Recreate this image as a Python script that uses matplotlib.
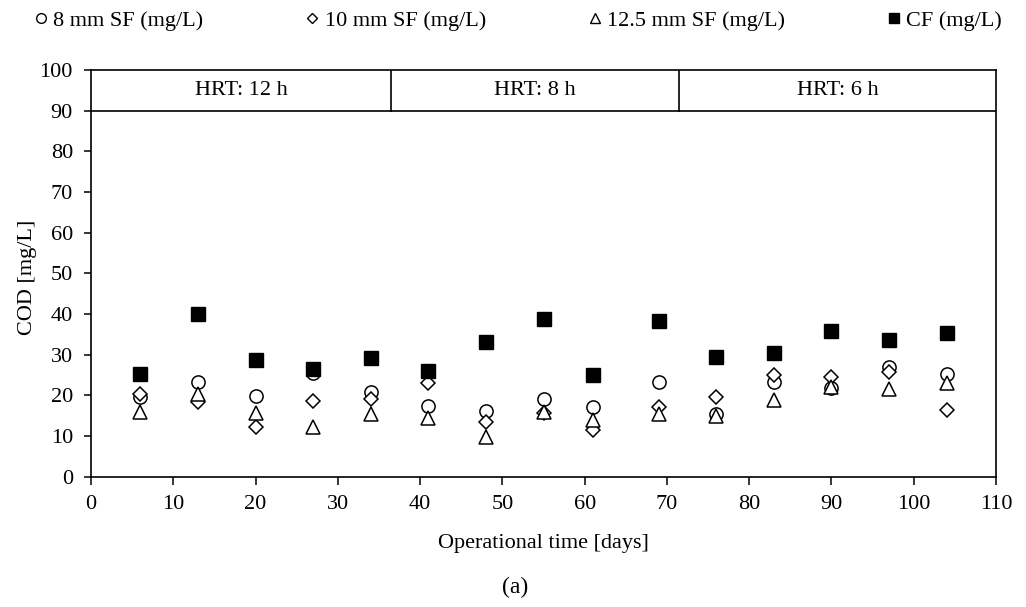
import matplotlib.pyplot as plt
from matplotlib.lines import Line2D

plt.rcParams["font.family"] = ["Liberation Serif", "DejaVu Serif"]
plt.rcParams["font.size"] = 16

# data
days = [6, 13, 20, 27, 34, 41, 48, 55, 61, 69, 76, 83, 90, 97, 104]
sf_8mm = [19.7, 23.4, 19.8, 25.4, 20.7, 17.4, 16.2, 19.0, 17.2, 23.4, 15.4, 23.4, 21.7, 26.9, 25.3]
sf_10mm = [20.3, 18.4, 12.1, 18.6, 19.0, 23.0, 13.5, 15.6, 11.5, 17.2, 19.5, 25.0, 24.4, 25.8, 16.4]
sf_12mm = [16.0, 20.3, 15.6, 12.1, 15.4, 14.4, 9.8, 16.0, 13.9, 15.4, 14.8, 18.9, 22.0, 21.5, 23.0]
cf = [25.2, 40.0, 28.7, 26.5, 29.3, 26.1, 33.2, 38.7, 25.0, 38.3, 29.5, 30.5, 35.9, 33.6, 35.4]

hrt_labels = ["HRT: 12 h", "HRT: 8 h", "HRT: 6 h"]
hrt_edges = [0, 36.5, 71.5, 110]

legend_labels = ["8 mm SF (mg/L)", "10 mm SF (mg/L)", "12.5 mm SF (mg/L)", "CF (mg/L)"]

fig = plt.figure(figsize=(10.26, 6.07), dpi=100)
ax = fig.add_axes([0.0887, 0.2147, 0.8821, 0.67])

ax.plot(days, sf_8mm, "o", ms=9.5, mfc="white", mec="black", mew=1.1, ls="none")
ax.plot(days, sf_10mm, "D", ms=7.3, mfc="white", mec="black", mew=1.1, ls="none")
ax.plot(days, sf_12mm, "^", ms=10, mfc="white", mec="black", mew=1.1, ls="none")
ax.plot(days, cf, "s", ms=10, mfc="black", mec="black", mew=1.0, ls="none")

# HRT band on top
ax.axhline(90, color="black", lw=1.2)
for x in hrt_edges[1:-1]:
    ax.plot([x, x], [90, 100], color="black", lw=1.2)
for i, lab in enumerate(hrt_labels):
    ax.text((hrt_edges[i] + hrt_edges[i + 1]) / 2, 95, lab, ha="center", va="center")

ax.set_xlim(0, 110)
ax.set_ylim(0, 100)
ax.set_xticks(range(0, 111, 10))
ax.set_yticks(range(0, 101, 10))
ax.tick_params(direction="out", width=1.1, top=False, right=False)
ax.tick_params(axis="x", length=6, pad=7)
ax.tick_params(axis="y", length=5, pad=8)
for s in ax.spines.values():
    s.set_linewidth(1.2)

ax.set_xlabel("Operational time [days]")
ax.xaxis.set_label_coords(0.5, -0.142)
ax.set_ylabel("COD [mg/L]")
ax.yaxis.set_label_coords(-0.06, 0.489)

handles = [
    Line2D([], [], marker="o", ms=7, mfc="white", mec="black", mew=1, ls="none"),
    Line2D([], [], marker="D", ms=5.5, mfc="white", mec="black", mew=1, ls="none"),
    Line2D([], [], marker="^", ms=7.5, mfc="white", mec="black", mew=1, ls="none"),
    Line2D([], [], marker="s", ms=7, mfc="black", mec="black", ls="none"),
]
fig.legend(handles, legend_labels, loc="upper center", bbox_to_anchor=(0.505, 1.016),
           ncol=4, frameon=False, handlelength=0.6, handletextpad=0.25,
           columnspacing=4.6, fontsize=16)

fig.text(0.502, 0.033, "(a)", ha="center", va="center", fontsize=17)

fig.savefig("out.png", dpi=100)
